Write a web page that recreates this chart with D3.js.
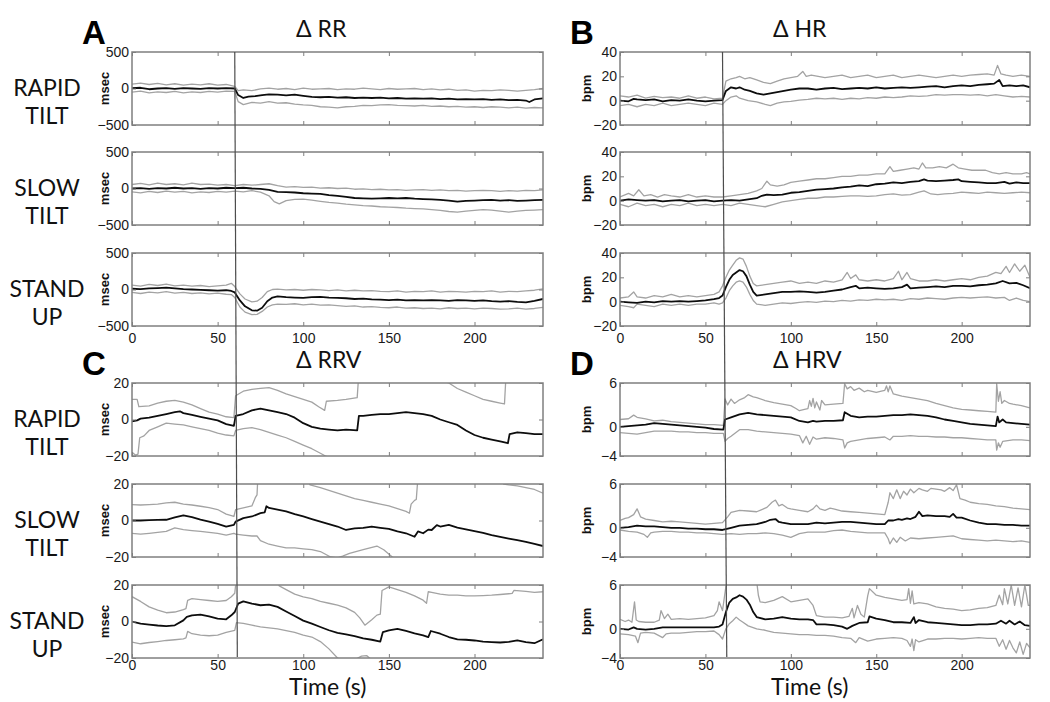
<!DOCTYPE html>
<html><head><meta charset="utf-8">
<script src="https://cdn.jsdelivr.net/npm/d3@7"></script>
<style>body{margin:0;background:#fff} svg{display:block}</style>
</head><body><svg id="c" width="1050" height="702"></svg>
<script>
// ---------------- DATA ----------------
const timeDomain = [0, 240];
const timeTicks = [0, 50, 100, 150, 200];
const rowLabels = [["RAPID", "TILT"], ["SLOW", "TILT"], ["STAND", "UP"]];
const rrTicks = [-500, 0, 500];
const hrTicks = [-20, 0, 20, 40];
const rrvTicks = [-20, 0, 20];
const hrvTicks = [-4, 0, 6];
const eventTime = 60;          // onset marker (s)
const eventTimeBottomLeft = 61.5;
const eventTimeBottomRight = 62.5;

// ΔRR (msec)
const rrRapidMean = [[0,5],[5,10],[10,-10],[15,0],[20,5],[25,-5],[30,5],[35,0],[40,-5],[45,5],[50,0],[55,5],[60,0],[62,-90],[65,-130],[68,-110],[72,-105],[76,-90],[80,-80],[85,-85],[90,-95],[95,-85],[100,-100],[105,-115],[110,-120],[115,-115],[120,-125],[125,-120],[130,-130],[135,-125],[140,-130],[145,-125],[150,-135],[155,-130],[160,-140],[165,-135],[170,-140],[175,-135],[180,-145],[185,-140],[190,-150],[195,-145],[200,-150],[205,-145],[210,-155],[215,-150],[220,-160],[225,-155],[230,-165],[232,-185],[235,-150],[240,-135]];
const rrRapidUpper = [[0,60],[5,75],[10,55],[15,70],[20,50],[25,65],[30,45],[35,60],[40,50],[45,65],[50,45],[55,55],[60,30],[62,-30],[65,-20],[70,-30],[75,-5],[80,5],[85,-10],[90,0],[95,-15],[100,5],[105,-10],[110,-5],[115,0],[120,-15],[125,-5],[130,-10],[135,5],[140,-5],[145,-15],[150,0],[155,-10],[160,-5],[165,0],[170,-15],[175,-5],[180,-20],[185,-10],[190,-25],[195,-20],[200,-35],[205,-25],[210,-30],[215,-20],[220,-25],[225,-35],[230,-25],[235,-15],[240,0]];
const rrRapidLower = [[0,-50],[5,-35],[10,-60],[15,-45],[20,-55],[25,-40],[30,-60],[35,-45],[40,-55],[45,-40],[50,-50],[55,-35],[60,-40],[62,-180],[65,-220],[70,-190],[75,-200],[80,-180],[85,-200],[90,-195],[95,-215],[100,-225],[105,-230],[110,-250],[115,-255],[120,-265],[125,-250],[130,-245],[135,-230],[140,-235],[145,-225],[150,-220],[155,-230],[160,-235],[165,-240],[170,-230],[175,-245],[180,-240],[185,-250],[190,-245],[195,-255],[200,-250],[205,-260],[210,-250],[215,-255],[220,-265],[225,-255],[230,-270],[235,-260],[240,-265]];
const rrSlowMean = [[0,0],[5,5],[10,-5],[15,5],[20,0],[25,10],[30,0],[35,5],[40,-5],[45,5],[50,0],[55,10],[60,5],[65,10],[70,0],[75,-5],[80,-20],[85,-45],[90,-50],[95,-55],[100,-65],[105,-70],[110,-75],[115,-90],[120,-100],[125,-115],[130,-130],[135,-135],[140,-140],[145,-135],[150,-130],[155,-135],[160,-130],[165,-140],[170,-145],[175,-150],[180,-155],[185,-165],[190,-180],[195,-170],[200,-165],[205,-160],[210,-155],[215,-165],[220,-160],[225,-170],[230,-165],[235,-160],[240,-155]];
const rrSlowUpper = [[0,55],[5,70],[10,50],[15,75],[20,55],[25,65],[30,50],[35,75],[40,55],[45,60],[50,45],[55,55],[60,40],[65,55],[70,45],[75,55],[80,65],[85,40],[90,20],[95,25],[100,15],[105,20],[110,5],[115,10],[120,0],[125,5],[130,-10],[135,-5],[140,-15],[145,-10],[150,-20],[155,-15],[160,-25],[165,-20],[170,-15],[175,-25],[180,-20],[185,-30],[190,-25],[195,-35],[200,-30],[205,-25],[210,-30],[215,-40],[220,-30],[225,-35],[230,-25],[235,-30],[240,-20]];
const rrSlowLower = [[0,-45],[5,-60],[10,-40],[15,-55],[20,-35],[25,-50],[30,-40],[35,-60],[40,-45],[45,-55],[50,-40],[55,-50],[60,-35],[65,-45],[70,-30],[75,-50],[80,-100],[83,-180],[86,-210],[90,-165],[95,-150],[100,-145],[105,-160],[110,-175],[115,-190],[120,-200],[125,-215],[130,-225],[135,-235],[140,-240],[145,-250],[150,-255],[155,-260],[160,-270],[165,-275],[170,-280],[175,-290],[180,-300],[185,-315],[190,-325],[195,-310],[200,-300],[205,-290],[210,-295],[215,-310],[220,-325],[225,-310],[230,-300],[235,-295],[240,-290]];
const rrStandMean = [[0,10],[5,5],[10,15],[15,20],[20,25],[25,15],[30,5],[35,0],[40,-5],[45,-10],[50,-15],[55,-10],[58,-20],[60,-40],[63,-150],[66,-230],[70,-285],[73,-290],[76,-250],[79,-160],[82,-110],[85,-95],[90,-105],[95,-110],[100,-115],[105,-105],[110,-100],[115,-110],[120,-115],[125,-120],[130,-130],[135,-125],[140,-135],[145,-140],[150,-145],[155,-140],[160,-150],[165,-145],[170,-150],[175,-145],[180,-150],[185,-155],[190,-145],[195,-150],[200,-155],[205,-150],[210,-160],[215,-165],[220,-160],[225,-170],[230,-175],[235,-155],[240,-130]];
const rrStandUpper = [[0,60],[5,45],[10,70],[15,55],[20,75],[25,50],[30,60],[35,45],[40,55],[45,40],[50,50],[55,60],[58,85],[60,40],[63,-60],[66,-130],[70,-170],[73,-160],[76,-110],[79,-30],[82,0],[85,5],[90,-5],[95,0],[100,-10],[105,0],[110,-5],[115,-15],[120,-5],[125,-20],[130,-10],[135,-20],[140,-15],[145,-25],[150,-30],[155,-20],[160,-35],[165,-25],[170,-30],[175,-20],[180,-35],[185,-25],[190,-30],[195,-35],[200,-25],[205,-30],[210,-20],[215,-35],[220,-25],[225,-30],[230,-20],[235,-10],[240,10]];
const rrStandLower = [[0,-40],[5,-55],[10,-35],[15,-45],[20,-30],[25,-50],[30,-40],[35,-55],[40,-45],[45,-60],[50,-50],[55,-65],[58,-70],[60,-110],[63,-240],[66,-310],[70,-345],[73,-340],[76,-300],[79,-240],[82,-210],[85,-200],[90,-205],[95,-195],[100,-210],[105,-200],[110,-215],[115,-210],[120,-220],[125,-230],[130,-225],[135,-240],[140,-235],[145,-245],[150,-250],[155,-240],[160,-255],[165,-250],[170,-260],[175,-255],[180,-265],[185,-250],[190,-260],[195,-255],[200,-265],[205,-255],[210,-260],[215,-270],[220,-265],[225,-255],[230,-270],[235,-260],[240,-245]];

// ΔHR (bpm)
const hrRapidMean = [[0,0],[5,-0.5],[8,1.5],[10,1],[15,0.5],[20,1],[25,-0.5],[30,0.5],[35,0],[40,1],[45,0],[50,-0.5],[55,0],[60,0.5],[62,8],[65,11],[68,10],[70,11],[73,9],[76,8],[80,6],[84,5],[88,6],[92,7],[96,8],[100,9],[105,10],[110,10],[115,9],[120,10],[125,10.5],[130,9.5],[135,10],[140,10.5],[145,10],[150,11],[155,10],[160,10.5],[165,11],[170,10.5],[175,11],[180,11.5],[185,12],[190,11],[195,12],[200,12.5],[205,12],[210,13],[215,13.5],[219,14],[222,17],[224,12],[228,12.5],[232,12],[236,12.5],[240,11]];
const hrRapidUpper = [[0,4],[5,3],[10,4.5],[15,2],[20,3.5],[25,2.5],[30,3],[35,2],[40,4],[45,2],[50,3],[55,1.5],[60,2],[62,16],[65,18],[68,19],[70,20],[73,18],[76,19],[80,17],[84,15],[88,14],[92,16],[96,18],[100,19],[104,20],[107,24],[109,20],[112,21],[116,20],[120,19],[125,20],[130,21],[135,19],[140,20],[145,21],[150,19],[155,20],[160,21],[165,19],[170,20],[175,21],[180,20],[185,19],[190,20],[195,21],[200,20],[205,21],[210,21.5],[215,22],[219,21],[221,29],[223,22],[226,21],[230,20],[235,21],[240,20]];
const hrRapidLower = [[0,-4],[5,-3],[10,-5],[15,-3],[20,-4],[25,-2],[30,-4],[35,-3],[40,-2],[45,-3],[50,-4],[55,-2],[60,-3],[62,0],[65,3],[68,4],[70,2],[75,0],[80,-1],[85,-3],[88,-4],[92,-2],[96,-1],[100,-0.5],[105,0.5],[110,1],[115,2],[120,1.5],[125,2],[130,1],[135,2],[140,1.5],[145,2.5],[150,2],[155,3],[160,2.5],[165,3],[170,4],[175,3.5],[180,4],[185,5],[190,4.5],[195,5],[200,5],[205,4.5],[210,5],[215,4],[220,5],[225,4],[230,3],[235,3.5],[240,3]];
const hrSlowMean = [[0,0],[5,1],[10,0.5],[15,0],[20,0.5],[25,-0.5],[30,0],[35,0.5],[40,-0.5],[45,0],[50,0.5],[55,-0.5],[60,0],[65,0.5],[70,0],[75,1],[80,2],[83,4],[86,5],[90,4.5],[95,5],[100,6.5],[105,7],[110,8],[115,9],[120,9.5],[125,10],[130,11],[135,11.5],[140,12.5],[145,12],[150,13.5],[155,14],[160,15],[165,14.5],[170,15.5],[175,16],[178,17.5],[180,16.5],[185,16],[190,16.5],[195,17],[198,17.5],[200,16],[205,15.5],[210,15],[215,14.5],[220,14.5],[225,15.5],[228,14],[232,15],[236,14.5],[240,14.5]];
const hrSlowUpper = [[0,3],[5,6],[8,4],[11,9],[14,4],[18,5],[22,3],[26,5],[30,4],[35,3],[40,5],[45,3],[50,4],[55,3],[60,3],[65,4],[70,5],[75,6],[80,8],[83,10],[86,16],[88,13],[92,12],[96,13],[100,15],[105,16],[110,17],[115,18],[120,18],[125,19],[130,20],[135,20],[140,21],[145,21],[150,22],[155,22],[158,28],[160,24],[164,25],[168,26],[172,27],[175,26],[177,31],[179,27],[183,27],[187,28],[191,27],[195,30],[198,27],[202,26],[206,25],[210,25],[214,25],[218,23],[222,22],[226,23],[230,22],[235,22],[238,23],[240,22]];
const hrSlowLower = [[0,-3],[5,-5],[10,-2],[15,-4],[20,-3],[25,-5],[30,-3],[35,-4],[40,-2],[45,-4],[50,-3],[55,-4],[60,-3],[65,-4],[70,-2],[75,-3],[80,-4],[85,-5],[90,-3],[95,-1],[100,0],[105,1],[110,2],[115,2],[120,3],[125,3],[130,3.5],[135,4],[140,4],[145,3.5],[150,4],[155,5],[160,5.5],[165,4.5],[170,5],[175,7],[178,8],[182,5.5],[186,5],[190,5.5],[195,6],[200,7],[205,6.5],[210,6],[215,7],[220,6.5],[225,6],[230,6.5],[235,7],[240,6.5]];
const hrStandMean = [[0,0],[5,-0.5],[10,-1],[15,0],[20,-0.5],[25,0.5],[30,0],[35,0.5],[40,0],[45,0.5],[50,1],[55,2],[58,3],[60,5],[62,12],[64,18],[66,22],[68,24],[70,26],[72,25],[74,21],[76,14],[78,8],[80,5],[85,6],[90,7],[95,8],[100,8],[105,8.5],[110,8],[115,7.5],[120,8],[125,9],[130,10],[135,12],[138,13],[140,11],[145,11.5],[150,11],[155,10.5],[160,11],[165,12],[168,14],[170,11],[175,11.5],[180,12],[185,12.5],[190,12],[195,13],[200,13],[205,12.5],[210,13.5],[215,14],[220,15],[224,17],[228,15],[232,15.5],[236,13.5],[240,11]];
const hrStandUpper = [[0,3],[5,4],[8,8],[10,4],[15,3],[20,5],[25,4],[30,6],[35,4],[40,5],[45,4],[50,5],[55,6],[58,8],[60,13],[62,20],[64,26],[66,30],[68,34],[70,36],[72,35],[74,29],[76,21],[78,15],[80,13],[85,14],[90,15],[95,16],[100,17],[105,15],[110,16],[115,15],[120,17],[125,16],[130,18],[133,24],[135,19],[138,22],[140,18],[145,17],[150,18],[155,17],[160,19],[163,25],[165,18],[168,24],[170,19],[175,17],[180,17],[185,18],[190,17],[195,18],[200,19],[205,18],[210,20],[215,21],[220,24],[223,23],[226,29],[228,24],[231,31],[234,25],[237,30],[240,20]];
const hrStandLower = [[0,-3],[5,-4],[8,-5],[10,-2],[15,-3],[20,-4],[25,-2],[30,-3],[35,-2],[40,-3],[45,-2],[50,-2],[55,-1],[58,-2],[60,-1],[62,3],[64,9],[66,13],[68,16],[70,17],[72,16],[74,12],[76,6],[78,1],[80,-2],[85,-3],[90,-2],[95,-1],[100,-1.5],[105,-0.5],[110,0],[115,-0.5],[120,0.5],[125,0],[130,1],[135,0.5],[140,1.5],[145,1],[150,2],[155,1.5],[160,2],[165,1],[170,2.5],[175,2],[180,3],[185,2.5],[190,2],[195,3],[200,3.5],[205,3],[210,3.5],[215,4],[220,3],[225,3.5],[228,1],[232,3],[236,1],[240,0]];

// ΔRRV (msec)
const rrvRapidMean = [[0,-1],[3,-0.5],[5,0.5],[10,1],[15,2],[20,3],[25,4],[28,4.5],[30,3.5],[35,2.5],[40,1.5],[45,0.5],[50,-0.5],[55,-2.5],[59.5,-3.5],[60.5,2],[65,3],[70,5],[75,6],[80,5],[85,4],[90,3],[95,1],[100,-2],[105,-4],[110,-5],[115,-5.5],[120,-6],[125,-5.5],[131.5,-6],[132.5,2],[135,2],[140,2.5],[145,3],[150,3],[155,3.5],[160,4],[165,3.5],[170,3],[175,2],[180,0],[185,-1.5],[190,-3],[195,-6],[200,-8.5],[205,-10],[210,-11],[215,-12],[219.5,-13],[220.5,-8],[225,-7],[230,-7.5],[235,-8],[240,-8]];
const rrvRapidUpper = [[0,11],[3,11],[4,7],[10,7.5],[15,9],[20,10],[25,10.5],[30,9.5],[35,8],[40,6],[45,4],[50,3],[55,1.5],[59.5,1],[60.5,13],[65,15.5],[70,16.5],[75,17],[80,17.5],[85,16],[90,14],[95,12.5],[100,11],[105,9.5],[109,7],[112.5,5],[113.5,10],[120,10.5],[125,11],[131.5,12],[132.5,26],[150,26],[170,23.5],[180,21.5],[185,20],[190,17],[195,15],[200,13],[205,11],[210,10],[215,9],[217.5,8.5],[218.5,26],[240,26]];
const rrvRapidLower = [[0,-18],[2,-19.5],[3.5,-19],[4.5,-10],[7,-9],[10,-6],[15,-4],[20,-2],[25,-2.5],[30,-3],[35,-4],[40,-5],[45,-6],[50,-7.5],[55,-8.5],[59.5,-9],[60.5,-6],[65,-5],[70,-4.5],[75,-5.5],[80,-7],[85,-8.5],[90,-10],[95,-12],[100,-14],[105,-16],[110,-18.5],[113,-20],[118,-22],[240,-24]];
const rrvSlowMean = [[0,0],[5,0],[10,0.2],[15,0.3],[20,0.4],[25,1.7],[30,2.8],[35,1.8],[40,0.5],[45,-0.6],[50,-1.9],[55,-3.3],[59.5,-2.4],[60.5,-0.6],[65,1.3],[70,2.2],[75,4],[77.5,4.5],[78.5,7.8],[80,6.9],[85,6],[90,5],[95,3.5],[100,2.2],[105,0.8],[110,-0.6],[115,-2],[120,-3.3],[125,-5.2],[130,-4.3],[135,-4],[140,-3.3],[145,-4],[150,-4.6],[155,-6],[160,-7],[165,-8.9],[167,-6],[170,-7],[173,-5],[175,-5.2],[178,-2.5],[180,-3.3],[185,-2.4],[190,-3.9],[195,-4.8],[200,-5.8],[205,-6.8],[210,-8],[215,-9],[220,-9.9],[225,-10.8],[230,-11.7],[235,-12.8],[240,-14]];
const rrvSlowUpper = [[0,8.7],[5,8.5],[10,8.7],[15,9],[20,9.7],[25,10],[30,9],[35,8.5],[40,7.8],[45,7],[50,6],[55,3.5],[59.5,2.2],[60.5,6],[65,6.9],[70,8],[72,12.5],[73,14],[73.5,24],[102,24],[104,19.5],[110,18],[115,16.5],[120,15],[125,13.5],[130,12],[135,11],[140,10],[145,9],[150,8],[155,6.5],[160,5],[162,4],[163,9],[165,11],[166,11.5],[167,24],[215,24],[217,20],[220,19.5],[225,19],[230,18],[235,17],[240,15]];
const rrvSlowLower = [[0,-7],[5,-7.5],[10,-7],[15,-6.5],[20,-6],[25,-4],[30,-5],[35,-5.5],[40,-6],[45,-6.5],[50,-7],[55,-8],[59.5,-7],[60.5,-7.5],[65,-8],[70,-8.5],[73,-8.5],[75,-11],[80,-13],[85,-14],[90,-15],[95,-15],[100,-15.5],[105,-16],[110,-17],[116,-20],[120,-20.5],[123,-19.5],[127,-18],[135,-16],[143,-14],[147,-16],[152,-20],[156,-22],[240,-24]];
const rrvStandMean = [[0,0],[5,-1.2],[10,-1.7],[15,-2.2],[20,-2.5],[25,-2.1],[30,0.6],[32,2.5],[35,3.4],[40,3.8],[45,2.8],[50,1.6],[55,1.2],[58,3.4],[60,5.2],[62,9.8],[65,11],[70,9.8],[75,8.9],[80,9.3],[85,8],[90,5.5],[95,3],[100,0.5],[105,-1.2],[110,-3],[115,-4.8],[120,-6.2],[125,-7],[130,-8],[135,-9.3],[140,-10],[145,-11],[146.5,-5.8],[150,-4.9],[155,-4],[160,-5.2],[165,-6.5],[170,-7.6],[173,-8.6],[174.5,-5.2],[180,-6.7],[185,-8.5],[190,-9.8],[195,-10],[200,-10.4],[205,-11],[210,-11.3],[215,-11.5],[220,-11.2],[225,-10.4],[230,-11.3],[235,-11.9],[240,-9.8]];
const rrvStandUpper = [[0,13.6],[5,11],[10,8],[15,6.2],[20,4.8],[25,5.2],[30,6.5],[31.5,7],[32.5,11.6],[35,12.5],[40,12],[45,11.5],[50,11],[55,11.5],[58,13.6],[60,15.5],[61,24],[84,24],[86,19.5],[90,17.5],[95,15],[100,13.5],[105,12.5],[110,11],[115,10],[120,9],[125,7.5],[130,5],[133,2],[136,-2],[140,1],[143,3.5],[145,4],[146,17],[150,19],[155,17.5],[160,16],[165,14],[170,11.7],[172,10],[173,16.3],[175,16],[180,15],[185,14.5],[190,14.4],[195,14],[200,14],[205,14.2],[210,14.4],[215,14.8],[220,15.2],[222,15.4],[223,17],[230,16.5],[235,16],[240,16.3]];
const rrvStandLower = [[0,-11.3],[5,-12.2],[10,-11.5],[15,-11],[20,-10.4],[25,-10],[30,-9.5],[31.5,-9],[32.5,-5.4],[35,-6.7],[40,-7.5],[45,-7.8],[50,-7.5],[55,-6],[60,-4.9],[61,-0.6],[65,-1],[70,-2],[75,-3],[80,-3.5],[85,-4],[90,-5],[95,-6],[100,-7.5],[105,-8.5],[110,-11],[115,-15],[120,-20],[125,-22],[130,-21],[134,-19],[137,-18.7],[140,-21],[145,-23],[240,-25]];

// ΔHRV (bpm)
const hrvRapidMean = [[0,0],[5,0.1],[10,0.2],[15,0.3],[20,0.5],[25,0.4],[30,0.3],[35,0.2],[40,0.1],[45,0],[50,-0.1],[55,-0.3],[60.5,-0.4],[61.5,1],[65,1.3],[70,1.7],[75,1.9],[80,1.7],[85,1.6],[90,1.5],[95,1.4],[100,1.3],[105,0.8],[110,0.6],[113,0.8],[115,0.7],[120,0.8],[125,0.8],[130.5,0.9],[131.5,2],[135,1.5],[140,1.3],[145,1.4],[150,1.4],[155,1.5],[160,1.6],[165,1.6],[170,1.7],[175,1.6],[180,1.5],[185,1.3],[190,1],[195,0.8],[200,0.6],[205,0.4],[210,0.3],[215,0.2],[220,0.1],[221,1.4],[222,0.6],[224,1],[226,0.6],[230,0.5],[235,0.4],[240,0.3]];
const hrvRapidUpper = [[0,1],[5,1.1],[8,1.6],[10,1.3],[15,1.1],[20,0.8],[25,0.9],[30,0.7],[35,0.6],[40,0.5],[45,0.4],[50,0.3],[55,0.3],[60.5,0.2],[61.5,3.8],[63,3],[65,3.8],[67,3.2],[70,3.7],[73,4],[75,4.4],[78,4.1],[80,4],[85,3.6],[90,3.3],[95,3.1],[100,2.9],[103,2.5],[105,2.2],[108,2.4],[110,2.5],[111,3.6],[112,2.8],[113,3.9],[114,2.6],[115,3.4],[117,2.3],[118,3.6],[120,3],[125,3.1],[130.5,3.2],[131.5,5.9],[133,5.2],[135,5.5],[137,5],[140,5.3],[143,4.8],[145,5],[150,4.7],[153,4.9],[155,5],[156,5.6],[157,4.8],[158,5.6],[160,4.5],[165,4.2],[170,4],[175,3.8],[180,3.6],[185,3.2],[190,2.9],[195,2.6],[200,2.4],[205,2.3],[210,2.2],[215,2.1],[220,2],[220.5,5.9],[221.5,3.5],[222.5,4.8],[223.5,3.2],[225,3.6],[228,3.2],[230,3.1],[235,2.9],[240,2.6]];
const hrvRapidLower = [[0,-0.8],[5,-0.9],[10,-1],[15,-0.8],[20,-0.6],[25,-0.6],[30,-0.6],[35,-0.7],[40,-0.7],[45,-0.8],[50,-0.8],[55,-0.9],[60.5,-0.9],[61.5,-2],[63,-1.6],[65,-1.3],[70,-0.4],[75,-0.4],[80,-0.6],[85,-0.7],[90,-0.8],[95,-0.9],[100,-1],[105,-1.2],[107,-2.2],[109,-1.3],[111,-2.4],[113,-1.4],[115,-1.7],[120,-1.5],[125,-1.6],[130.5,-1.8],[131.5,-2.9],[133,-2.2],[135,-2],[140,-1.8],[145,-1.6],[150,-1.5],[155,-1.4],[158,-1.8],[160,-1.3],[165,-1.3],[170,-1.2],[175,-1.3],[180,-1.3],[185,-1.4],[190,-1.4],[195,-1.5],[200,-1.5],[205,-1.6],[210,-1.7],[215,-1.8],[220,-1.8],[220.5,-3.2],[221.5,-2.2],[222.5,-2.8],[224,-2],[230,-1.8],[235,-1.8],[240,-1.9]];
const hrvSlowMean = [[0,0],[5,0.1],[10,0.3],[15,0.2],[20,0.2],[25,0.1],[30,0],[35,0],[40,-0.1],[45,-0.1],[50,-0.2],[55,-0.2],[60,-0.3],[65,0],[70,0.3],[75,0.4],[80,0.5],[85,0.8],[88,1.1],[91,1.2],[93,0.8],[95,0.7],[100,0.5],[105,0.5],[110,0.5],[115,0.7],[120,0.6],[125,0.7],[130,0.8],[135,0.8],[140,0.7],[145,0.6],[150,0.5],[155,0.5],[157,1],[160,1],[163,1.2],[165,1.1],[168,1.3],[170,1.2],[173,1.5],[175,2.2],[177,1.6],[180,1.7],[185,1.6],[190,1.6],[193,1.5],[195,1.9],[197,1.4],[200,1.4],[205,1],[210,0.7],[215,0.5],[220,0.5],[225,0.4],[230,0.4],[235,0.3],[240,0.3]];
const hrvSlowUpper = [[0,1],[3,1.3],[5,1.4],[8,1.8],[10,2.6],[12,1.5],[15,1.2],[20,1],[25,0.8],[30,0.9],[35,0.8],[40,0.7],[45,0.6],[50,0.5],[55,0.6],[60,0.7],[63,1.5],[65,2.1],[70,2.4],[75,2.3],[80,2.2],[83,2.5],[86,2.8],[89,3.5],[91,3.8],[93,3],[95,3.2],[98,2.7],[100,2.6],[105,2.4],[110,2.2],[113,2.6],[115,3.1],[117,2.6],[120,2.4],[123,2.7],[125,2.6],[130,2.3],[135,2.2],[140,2.1],[145,2],[150,1.9],[155,1.8],[157,3.5],[158,4.8],[160,4],[162,5.2],[164,4],[166,5],[168,4.5],[170,5.3],[172,4.8],[175,5.4],[177,5.2],[180,5],[182,5.4],[185,5.3],[188,5.2],[190,5],[193,5.5],[195,5.1],[197,5.9],[199,4],[202,3.8],[205,3.5],[210,3.3],[215,3.2],[220,3],[225,2.9],[230,2.7],[235,2.6],[240,2.5]];
const hrvSlowLower = [[0,-0.3],[5,-0.5],[10,-0.6],[14,-0.9],[16,-1.3],[18,-0.7],[20,-0.6],[25,-0.5],[30,-0.5],[35,-0.6],[40,-0.6],[45,-0.7],[50,-0.7],[55,-0.8],[60,-0.9],[65,-0.8],[70,-0.9],[75,-0.8],[80,-0.8],[85,-0.7],[90,-0.8],[95,-1],[100,-1.3],[103,-1],[105,-0.8],[110,-0.6],[115,-0.6],[120,-0.6],[125,-0.4],[130,-0.3],[135,-0.5],[140,-0.6],[145,-0.7],[150,-0.7],[155,-0.7],[157,-1.5],[158,-2.2],[160,-1.4],[162,-2],[164,-1.3],[167,-1.8],[170,-1.4],[175,-1.5],[180,-1.4],[185,-1.3],[190,-1.2],[195,-1.1],[200,-1.5],[205,-1.6],[210,-1.7],[215,-1.8],[220,-1.7],[225,-1.8],[230,-1.9],[235,-1.8],[240,-2]];
const hrvStandMean = [[0,0],[5,-0.1],[8,0.2],[10,0],[15,-0.1],[20,0],[25,0.2],[30,0.2],[35,0.2],[40,0.2],[45,0.2],[50,0.2],[55,0.2],[58,0.3],[60,0.6],[62,2.3],[64,3.6],[66,4.1],[68,4.3],[70,4.6],[72,4.4],[74,4],[76,3.3],[78,2.3],[80,1.6],[85,1.3],[90,1.4],[95,1.6],[100,1.4],[105,1.3],[110,1.3],[113,1.2],[115,0.6],[120,0.6],[125,0.5],[130,0.3],[133,0],[136,0.4],[140,0.8],[145,0.9],[146,1.7],[150,1.4],[155,1.2],[160,0.9],[165,0.9],[170,0.8],[172,1.6],[173,0.8],[175,1.2],[180,0.9],[185,0.8],[190,0.7],[195,0.6],[200,0.5],[205,0.5],[210,0.6],[215,0.6],[220,0.7],[223,1.1],[226,0.7],[228,1.1],[231,0.6],[234,1],[237,0.5],[240,0.4]];
const hrvStandUpper = [[0,1.3],[3,1],[5,1.2],[7,0.9],[8.5,3.7],[9.5,1.2],[11,1],[15,0.9],[20,0.9],[23,1.2],[24,2.5],[26,1.4],[28,2],[30,1.3],[35,1.4],[40,1.3],[45,1.4],[50,1.5],[55,1.8],[57,2.5],[58,3.7],[60,2.5],[62,5.8],[63,6.5],[80,6.5],[81,4.6],[82,3.7],[85,3.6],[90,3.9],[95,4.4],[100,3.7],[105,3.9],[110,4.1],[113,3.2],[115,1.8],[120,1.6],[125,1.6],[130,1.5],[134,1.7],[136,2.8],[137,1.5],[139,3.2],[141,2],[143,1.6],[145,4.5],[146,5.5],[150,4.6],[155,4.3],[160,4.1],[165,3.9],[168,4],[169,5.5],[170,3.5],[171,5.2],[172,3.4],[175,3.6],[180,3.4],[185,3],[190,2.8],[195,2.7],[200,2.5],[205,2.6],[210,2.8],[215,2.9],[220,3.2],[222,4.6],[224,3.3],[225,5.5],[227,3.4],[229,6],[231,3.2],[233,5.6],[235,3],[237,6],[239,3.2],[240,3.2]];
const hrvStandLower = [[0,-0.7],[5,-0.8],[9,-1],[10.5,-1.9],[12,-0.6],[15,-0.5],[20,-0.6],[25,-1.2],[27,-0.7],[30,-0.6],[35,-0.6],[40,-0.5],[45,-0.4],[50,-0.4],[55,-0.3],[58,-0.8],[60,-1.4],[62,0],[64,0.7],[66,1.1],[68,1.6],[70,1.2],[72,0.9],[75,0.4],[80,0],[85,-0.2],[90,-0.5],[95,-0.6],[100,-0.7],[105,-0.8],[110,-0.8],[115,-0.9],[120,-0.9],[125,-1],[130,-1.2],[135,-1.3],[138,-1.9],[140,-1.2],[145,-1.7],[150,-1.4],[155,-1.3],[160,-1.2],[165,-1.3],[168,-1.6],[170,-2.4],[171,-1.4],[172,-3],[173,-1.5],[175,-1.8],[180,-1.4],[185,-1.4],[190,-1.3],[195,-1.3],[200,-1.4],[205,-1.3],[210,-1.2],[215,-1.3],[220,-1.3],[222,-2.4],[224,-1.5],[226,-2.8],[228,-1.6],[230,-2.6],[232,-3.3],[234,-1.8],[236,-3.5],[238,-2],[240,-2.6]];

// ---------------- LAYOUT ----------------
const colX = [132, 620], colW = [411, 410];
const rowTop = [52, 152, 253, 383, 484, 585], rowH = 73;
const panels = [
  {letter:"A", title:"\u0394 RR", col:0, block:0, unit:"msec", unitOff:-23, domain:[-500,500], ticks:rrTicks,
   rows:[[rrRapidMean,rrRapidUpper,rrRapidLower],[rrSlowMean,rrSlowUpper,rrSlowLower],[rrStandMean,rrStandUpper,rrStandLower]]},
  {letter:"B", title:"\u0394 HR", col:1, block:0, unit:"bpm", unitOff:-29, domain:[-20,40], ticks:hrTicks,
   rows:[[hrRapidMean,hrRapidUpper,hrRapidLower],[hrSlowMean,hrSlowUpper,hrSlowLower],[hrStandMean,hrStandUpper,hrStandLower]]},
  {letter:"C", title:"\u0394 RRV", col:0, block:1, unit:"msec", unitOff:-23, domain:[-20,20], ticks:rrvTicks,
   rows:[[rrvRapidMean,rrvRapidUpper,rrvRapidLower],[rrvSlowMean,rrvSlowUpper,rrvSlowLower],[rrvStandMean,rrvStandUpper,rrvStandLower]]},
  {letter:"D", title:"\u0394 HRV", col:1, block:1, unit:"bpm", unitOff:-29, domain:[-4,6], ticks:hrvTicks,
   rows:[[hrvRapidMean,hrvRapidUpper,hrvRapidLower],[hrvSlowMean,hrvSlowUpper,hrvSlowLower],[hrvStandMean,hrvStandUpper,hrvStandLower]]}
];

const svg = d3.select("#c");
const boxColor = "#7f7f7f";
const labelFont = "Lato, 'Open Sans', sans-serif";
const tickFont = "'Liberation Sans', Arial, sans-serif";
let clipId = 0;
const xScales = [];

panels.forEach(p => {
  const x0 = colX[p.col], w = colW[p.col];
  const x = d3.scaleLinear().domain(timeDomain).range([0, w]);
  xScales[p.col] = x;
  const top0 = rowTop[p.block * 3];
  // panel letter & title
  svg.append("text").attr("x", x0 - 50).attr("y", top0 - 8)
    .attr("font-family", tickFont).attr("font-weight", "bold").attr("font-size", 33)
    .text(p.letter);
  svg.append("text").attr("x", x0 + 164 + (p.col ? -11 : 0)).attr("y", top0 - 15)
    .attr("font-family", labelFont).attr("font-size", 23).attr("fill", "#111")
    .text(p.title);

  p.rows.forEach((series, r) => {
    const ty = rowTop[p.block * 3 + r];
    const y = d3.scaleLinear().domain(p.domain).range([rowH, 0]);
    const g = svg.append("g").attr("transform", `translate(${x0},${ty})`);
    const id = "clip" + (clipId++);
    g.append("clipPath").attr("id", id).append("rect").attr("width", w).attr("height", rowH);
    const line = d3.line().x(d => x(d[0])).y(d => y(d[1]));
    const lg = g.append("g").attr("clip-path", `url(#${id})`);
    [series[1], series[2]].forEach(s => lg.append("path").datum(s).attr("d", line)
      .attr("fill", "none").attr("stroke", "#a3a3a3").attr("stroke-width", 1.3).attr("stroke-linejoin", "round"));
    lg.append("path").datum(series[0]).attr("d", line)
      .attr("fill", "none").attr("stroke", "#0d0d0d").attr("stroke-width", 1.8).attr("stroke-linejoin", "round");

    const last = r === 2;
    const styleAxis = sel => {
      sel.select(".domain").remove();
      sel.selectAll(".tick line").attr("stroke", boxColor).attr("stroke-width", 1);
      sel.selectAll(".tick text").attr("font-family", tickFont).attr("font-size", 14).attr("fill", "#1a1a1a");
    };
    g.append("g").attr("transform", `translate(0,${rowH})`)
      .call(d3.axisBottom(x).tickValues(timeTicks).tickSize(-4).tickPadding(p.block === 0 ? 7 : 2)
        .tickFormat(last ? d3.format("d") : () => ""))
      .call(styleAxis);
    g.append("g").call(d3.axisTop(x).tickValues(timeTicks).tickSize(-4).tickFormat(() => "")).call(styleAxis);
    g.append("g").call(d3.axisLeft(y).tickValues(p.ticks).tickSize(-4).tickPadding(3)).call(styleAxis);
    g.append("g").attr("transform", `translate(${w},0)`)
      .call(d3.axisRight(y).tickValues(p.ticks).tickSize(-4).tickFormat(() => "")).call(styleAxis);
    g.append("rect").attr("width", w).attr("height", rowH).attr("fill", "none")
      .attr("stroke", boxColor).attr("stroke-width", 1.5);
    // unit label
    g.append("text").attr("transform", `translate(${p.unitOff},${rowH / 2}) rotate(-90)`)
      .attr("text-anchor", "middle").attr("font-family", tickFont).attr("font-weight", "bold")
      .attr("font-size", 13).attr("fill", "#111").text(p.unit);
    // row label (left column only)
    if (p.col === 0) {
      const t = svg.append("text").attr("text-anchor", "middle").attr("font-family", labelFont)
        .attr("font-size", 23).attr("fill", "#111");
      t.append("tspan").attr("x", 47).attr("y", ty + rowH / 2 + 7).text(rowLabels[r][0]);
      t.append("tspan").attr("x", 47).attr("y", ty + rowH / 2 + 35).text(rowLabels[r][1]);
    }
    if (last && p.block === 1) {
      svg.append("text").attr("x", x0 + 157 + (p.col ? -6 : 0)).attr("y", ty + rowH + 37)
        .attr("font-family", labelFont).attr("font-size", 23).attr("fill", "#111").text("Time (s)");
    }
  });
});

// stimulus onset marker through all rows of each column
[[0, eventTimeBottomLeft], [1, eventTimeBottomRight]].forEach(([c, tb]) => {
  const x = xScales[c];
  svg.append("line")
    .attr("x1", colX[c] + x(eventTime)).attr("y1", rowTop[0])
    .attr("x2", colX[c] + x(tb)).attr("y2", rowTop[5] + rowH - 1)
    .attr("stroke", "#4d4d4d").attr("stroke-width", 1.2);
});
</script></body></html>
